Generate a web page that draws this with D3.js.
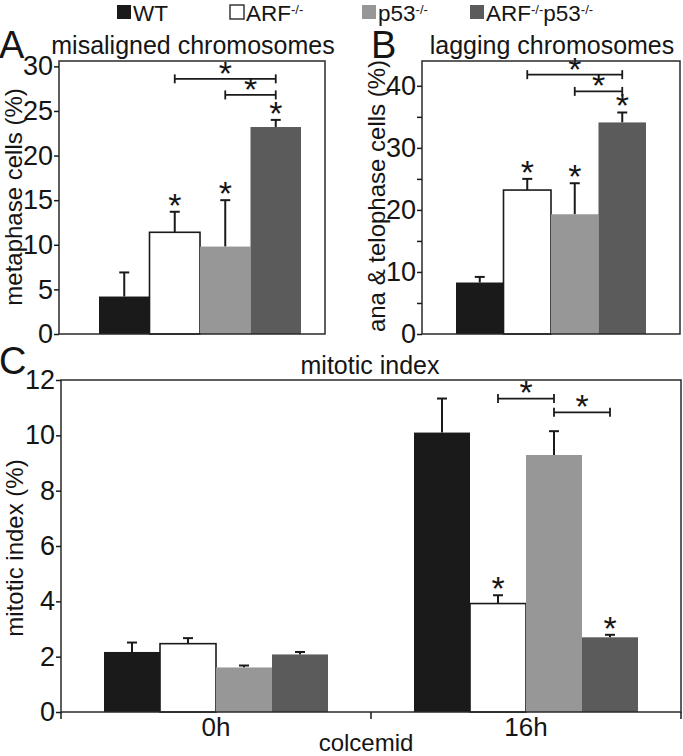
<!DOCTYPE html>
<html><head><meta charset="utf-8">
<script src="https://cdn.jsdelivr.net/npm/d3@7"></script>
<style>
body{margin:0;background:#fff}
svg{display:block}
text{font-family:"Liberation Sans",Arial,Helvetica,sans-serif;fill:#151515}
</style>
</head><body>
<svg id="chart" width="683" height="756"></svg>
<script>
// ---------- data ----------
const groups = ["WT", "ARF-/-", "p53-/-", "ARF-/-p53-/-"];
const groupColors = ["#1a1a1a", "#ffffff", "#979797", "#5b5b5b"];

// Panel A: misaligned chromosomes (metaphase cells %)
const misaligned = [4.2, 11.4, 9.8, 23.2];
const misalignedErr = [2.7, 2.3, 5.2, 0.8];
const misalignedStars = [1, 2, 3];
const misalignedBrackets = [[1, 3, 28.6], [2, 3, 26.8]];
const ticksA = [0, 5, 10, 15, 20, 25, 30];

// Panel B: lagging chromosomes (ana & telophase cells %)
const lagging = [8.3, 23.2, 19.3, 34.1];
const laggingErr = [0.9, 1.8, 5.0, 1.6];
const laggingStars = [1, 2, 3];
const laggingBrackets = [[1, 3, 41.8], [2, 3, 39.1]];
const ticksB = [0, 10, 20, 30, 40];
const minorTicksB = [5, 15, 25, 35];

// Panel C: mitotic index (%)
const timepoints = ["0h", "16h"];
const mitotic0h = [2.17, 2.47, 1.61, 2.08];
const mitotic0hErr = [0.34, 0.2, 0.07, 0.09];
const mitotic16h = [10.1, 3.92, 9.29, 2.70];
const mitotic16hErr = [1.23, 0.3, 0.86, 0.09];
const mitoticStars16h = [1, 3];
const mitoticBrackets16h = [[1, 2, 11.33], [2, 3, 10.83]];
const ticksC = [0, 2, 4, 6, 8, 10, 12];

// ---------- drawing ----------
const svg = d3.select("#chart");
const INK = "#1a1a1a";
const TICK_FONT = 27, LABEL_FONT = 24, TITLE_FONT = 25, STAR_FONT = 34;

function labelText(sel, label, size, supSize) {
  const parts = label.split(/(-\/-)/).filter(p => p.length);
  let raised = false;
  parts.forEach(p => {
    if (p === "-/-") {
      sel.append("tspan").attr("font-size", supSize).attr("dy", raised ? 0 : -7).text(p);
      raised = true;
    } else {
      sel.append("tspan").attr("font-size", size).attr("dy", raised ? 7 : 0).text(p);
      raised = false;
    }
  });
}

// legend
const legendX = [117, 230, 362, 470];
groups.forEach((gname, i) => {
  svg.append("rect").attr("x", legendX[i]).attr("y", 5).attr("width", 14).attr("height", 14)
    .attr("fill", groupColors[i]).attr("stroke", i === 1 ? INK : "none").attr("stroke-width", 1.3);
  const t = svg.append("text").attr("x", legendX[i] + 16).attr("y", 20.5);
  labelText(t, gname, 22.5, 13);
});

function star(g, x, yCenter) {
  g.append("text").attr("x", x).attr("y", yCenter + STAR_FONT * 0.44)
    .attr("text-anchor", "middle").attr("font-size", STAR_FONT).text("*");
}

function yAxis(g, y, x, tickVals, labelled) {
  const ax = d3.axisLeft(y).tickValues(tickVals).tickSize(5).tickPadding(1)
    .tickFormat(labelled ? d3.format("d") : () => "");
  const a = g.append("g").attr("transform", `translate(${x},0)`).call(ax);
  a.select(".domain").remove();
  a.selectAll("line").attr("stroke", INK).attr("stroke-width", 1.5);
  a.selectAll("text").attr("font-size", TICK_FONT).attr("fill", "#151515")
    .attr("font-family", '"Liberation Sans",Arial,sans-serif');
}

function bars(g, xs, y, values, errs, stars, brackets) {
  const bw = xs.bandwidth();
  groups.forEach((gname, i) => {
    const x = xs(gname), v = values[i], e = errs[i];
    const cx = x + bw / 2;
    // error bar
    g.append("line").attr("x1", cx).attr("x2", cx).attr("y1", y(v)).attr("y2", y(v + e))
      .attr("stroke", INK).attr("stroke-width", 2);
    g.append("line").attr("x1", cx - 5).attr("x2", cx + 5).attr("y1", y(v + e)).attr("y2", y(v + e))
      .attr("stroke", INK).attr("stroke-width", 2);
    g.append("rect").attr("x", x).attr("y", y(v)).attr("width", bw).attr("height", y(0) - y(v))
      .attr("fill", groupColors[i])
      .attr("stroke", i === 1 ? INK : "none").attr("stroke-width", 1.6);
    if (stars.includes(i)) star(g, cx, y(v + e) - 10);
  });
  brackets.forEach(([a, b, lvl]) => {
    const xa = xs(groups[a]) + bw / 2, xb = xs(groups[b]) + bw / 2, yy = y(lvl);
    g.append("line").attr("x1", xa).attr("x2", xb).attr("y1", yy).attr("y2", yy)
      .attr("stroke", INK).attr("stroke-width", 1.8);
    [xa, xb].forEach(xx => g.append("line").attr("x1", xx).attr("x2", xx)
      .attr("y1", yy - 4.5).attr("y2", yy + 4.5).attr("stroke", INK).attr("stroke-width", 1.8));
    star(g, (xa + xb) / 2, yy - 9);
  });
}

function frame(g, l, r, t, b) {
  g.append("rect").attr("x", l).attr("y", t).attr("width", r - l).attr("height", b - t)
    .attr("fill", "none").attr("stroke", "#2a2a2a").attr("stroke-width", 1.5);
}

function rotLabel(g, x, y, text) {
  g.append("text").attr("transform", `translate(${x},${y}) rotate(-90)`)
    .attr("text-anchor", "middle").attr("font-size", LABEL_FONT).text(text);
}

// ---- Panel A ----
const gA = svg.append("g");
const yA = d3.scaleLinear().domain([0, 30.6]).range([334, 61]);
const xA = d3.scaleBand().domain(groups).range([99, 301]);
bars(gA, xA, yA, misaligned, misalignedErr, misalignedStars, misalignedBrackets);
frame(gA, 59, 325, 61, 334);
yAxis(gA, yA, 59, ticksA, true);
rotLabel(gA, 22, 197, "metaphase cells (%)");
gA.append("text").attr("x", 193).attr("y", 54).attr("text-anchor", "middle")
  .attr("font-size", TITLE_FONT).text("misaligned chromosomes");
gA.append("text").attr("x", -1).attr("y", 58).attr("font-size", 38).text("A");

// ---- Panel B ----
const gB = svg.append("g");
const yB = d3.scaleLinear().domain([0, 44]).range([334, 61]);
const xB = d3.scaleBand().domain(groups).range([456, 646]);
bars(gB, xB, yB, lagging, laggingErr, laggingStars, laggingBrackets);
frame(gB, 422, 680, 61, 334);
yAxis(gB, yB, 422, ticksB, true);
yAxis(gB, yB, 422, minorTicksB, false);
rotLabel(gB, 385, 196, "ana & telophase cells (%)");
gB.append("text").attr("x", 552).attr("y", 54).attr("text-anchor", "middle")
  .attr("font-size", TITLE_FONT).text("lagging chromosomes");
gB.append("text").attr("x", 371).attr("y", 58).attr("font-size", 38).text("B");

// ---- Panel C ----
const gC = svg.append("g");
const yC = d3.scaleLinear().domain([0, 12]).range([712, 380]);
const x0C = d3.scaleBand().domain(timepoints).range([61, 681]);
const x1C = d3.scaleBand().domain(groups).range([43, 267]);
const cData = [[mitotic0h, mitotic0hErr, [], []], [mitotic16h, mitotic16hErr, mitoticStars16h, mitoticBrackets16h]];
timepoints.forEach((tp, k) => {
  const sub = gC.append("g").attr("transform", `translate(${x0C(tp)},0)`);
  bars(sub, x1C, yC, cData[k][0], cData[k][1], cData[k][2], cData[k][3]);
});
frame(gC, 61, 681, 380, 712);
yAxis(gC, yC, 61, ticksC, true);
// category axis
const xAx = gC.append("g").attr("transform", "translate(0,712)")
  .call(d3.axisBottom(x0C).tickSize(0).tickPadding(6));
xAx.select(".domain").remove();
xAx.selectAll("text").attr("font-size", 26).attr("fill", "#151515")
  .attr("font-family", '"Liberation Sans",Arial,sans-serif');
const boundaries = [x0C(timepoints[0]), x0C(timepoints[1]), x0C(timepoints[1]) + x0C.bandwidth()];
boundaries.forEach(bx => gC.append("line").attr("x1", bx).attr("x2", bx).attr("y1", 712).attr("y2", 719)
  .attr("stroke", INK).attr("stroke-width", 1.5));
gC.append("text").attr("x", 366).attr("y", 751).attr("text-anchor", "middle")
  .attr("font-size", LABEL_FONT).text("colcemid");
rotLabel(gC, 23, 548, "mitotic index (%)");
gC.append("text").attr("x", 370).attr("y", 374).attr("text-anchor", "middle")
  .attr("font-size", TITLE_FONT).text("mitotic index");
gC.append("text").attr("x", -1).attr("y", 374).attr("font-size", 38).text("C");
</script>
</body></html>
